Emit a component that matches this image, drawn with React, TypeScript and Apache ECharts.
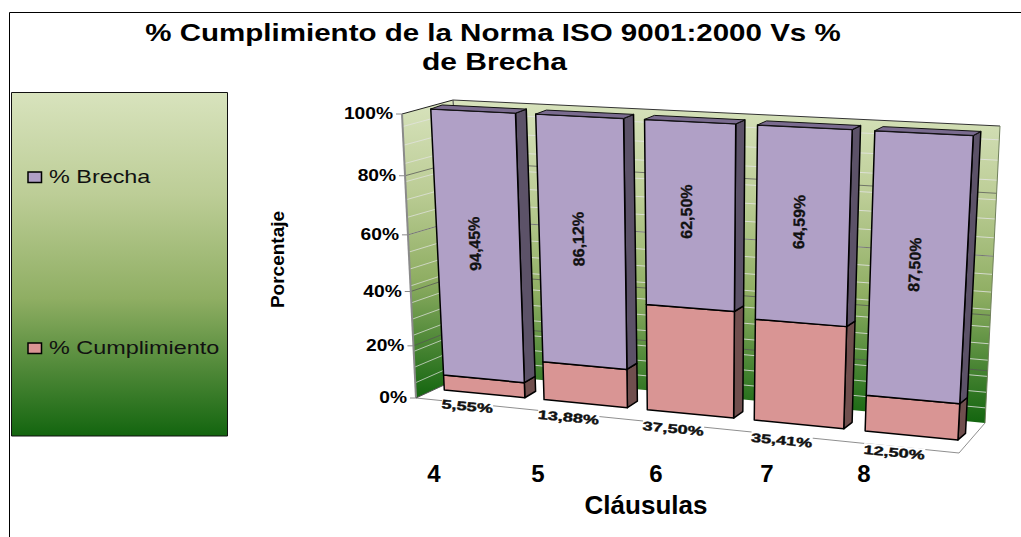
import React, { useEffect, useRef } from "react";
import * as echarts from "echarts";

const categories = ["4", "5", "6", "7", "8"];
const brecha = [94.45, 86.12, 62.5, 64.59, 87.5];
const cumplimiento = [5.55, 13.88, 37.5, 35.41, 12.5];
const yTicks = [0, 20, 40, 60, 80, 100];
const wallStripes = [5.9, 11.9, 17.9, 23.9, 29.9, 35.9, 42, 48, 54, 60, 66, 72, 78, 84, 90, 96];
const legendNames = ["% Brecha", "% Cumplimiento"];

const titleLine1 = "% Cumplimiento de la Norma ISO 9001:2000 Vs %";
const titleLine2 = "de Brecha";
const yName = "Porcentaje";
const xName = "Cláusulas";

// layout constants (not data)
const categoryLabelX = [434, 538, 656, 767, 864];
const FONT = '"Liberation Sans", Arial, sans-serif';
const GRID = { left: 400, top: 100, width: 500, height: 300 };

type P = [number, number];
function quadMap(p0: P, p1: P, p2: P, p3: P) {
  const [x0, y0] = p0, [x1, y1] = p1, [x2, y2] = p2, [x3, y3] = p3;
  const dx1 = x1 - x2, dx2 = x3 - x2, sx = x0 - x1 + x2 - x3;
  const dy1 = y1 - y2, dy2 = y3 - y2, sy = y0 - y1 + y2 - y3;
  const den = dx1 * dy2 - dx2 * dy1;
  const g = (sx * dy2 - dx2 * sy) / den;
  const h = (dx1 * sy - sx * dy1) / den;
  const a = x1 - x0 + g * x1, b = x3 - x0 + h * x3;
  const d = y1 - y0 + g * y1, e = y3 - y0 + h * y3;
  return (u: number, v: number): P => {
    const w = g * u + h * v + 1;
    return [(a * u + b * v + x0) / w, (d * u + e * v + y0) / w];
  };
}

const barPlane = quadMap([435, 389], [969, 441], [985, 136], [421, 108.5]);
const backWall = quadMap([470, 373], [985, 423], [1000, 126], [453, 100]);
const sideWall = quadMap([416, 398], [470, 373], [453, 100], [402, 114]);
const squeeze = (t: number, k: number) => t / (1 + k * (1 - t));
const wallFill = () =>
  new echarts.graphic.LinearGradient(0, 0, 0, 1, [
    { offset: 0, color: "#d8e3bd" },
    { offset: 0.3, color: "#bccd96" },
    { offset: 0.6, color: "#8fae63" },
    { offset: 1, color: "#13650f" },
  ]);

const poly = (points: P[], fill: any, stroke: string | null, lw = 1.5) => ({
  type: "polygon",
  shape: { points },
  style: { fill, stroke: stroke ?? "none", lineWidth: lw, lineJoin: "round" },
  silent: true,
});
const seg = (a: P, b: P, stroke: string, lw = 1) => ({
  type: "line",
  shape: { x1: a[0], y1: a[1], x2: b[0], y2: b[1] },
  style: { stroke, lineWidth: lw, fill: "none" },
  silent: true,
});

function renderWalls(params: any, api: any) {
  const cs = params.coordSys;
  const tOf = (v: number) => (cs.y + cs.height - api.coord([0, v])[1]) / cs.height;
  const kids: any[] = [];
  const back = (s: number, t: number) => backWall(s, squeeze(t, 0.1));
  const sideFront = (t: number) => sideWall(0, squeeze(t, 0.19));
  kids.push(poly([backWall(0, 0), backWall(1, 0), backWall(1, 1), backWall(0, 1)], wallFill(), null));
  kids.push(poly([sideWall(0, 0), sideWall(1, 0), sideWall(1, 1), sideWall(0, 1)], wallFill(), null));
  wallStripes.forEach((v) => {
    const t = tOf(v);
    kids.push(seg(back(0, t), back(1, t), "rgba(228,228,228,0.8)", 1));
    kids.push(seg(sideFront(t), back(0, t), "rgba(228,228,228,0.7)", 1));
  });
  yTicks.slice(1, -1).forEach((v) => {
    const t = tOf(v);
    kids.push(seg(back(0, t), back(1, t), "rgba(85,85,85,0.75)", 1));
    kids.push(seg(sideFront(t), back(0, t), "rgba(85,85,85,0.75)", 1));
  });
  // edges
  kids.push(seg(sideWall(0, 1), sideWall(1, 1), "#222", 1));
  kids.push(seg(backWall(0, 1), backWall(1, 1), "#333", 1));
  kids.push(seg(backWall(1, 1), backWall(1, 0), "#6f7f5a", 1));
  kids.push(seg(sideWall(0, 0), sideWall(0, 1), "#8a8a8a", 2));
  kids.push(seg(sideWall(1, 0), sideWall(1, 1), "#444", 1));
  // floor
  const fl: P = [959, 453];
  kids.push(seg(sideWall(0, 0), fl, "#8f8f8f", 1));
  kids.push(seg(fl, backWall(1, 0), "#8f8f8f", 1));
  kids.push(seg(sideWall(0, 0), sideWall(1, 0), "#555", 1));
  // y ticks and labels
  yTicks.forEach((v) => {
    const p = sideFront(tOf(v));
    kids.push(seg([p[0] - 6, p[1]], p, "#8a8a8a", 1));
    kids.push({
      type: "text",
      x: p[0] - 9,
      y: p[1],
      scaleX: 1.2,
      silent: true,
      style: {
        text: v + "%",
        fill: "#000",
        font: `bold 16px ${FONT}`,
        textAlign: "right",
        textVerticalAlign: "middle",
      },
    });
  });
  return { type: "group", children: kids };
}

const fmt = (v: number) => v.toFixed(2).replace(".", ",") + "%";

function makeBarRenderer(front: string, side: string, top: string | null, vertical: boolean) {
  return (params: any, api: any) => {
    const cs = params.coordSys;
    const i = api.value(0);
    const lo = api.value(1);
    const hi = api.value(2);
    const band = api.size([1, 0])[0];
    const half = band * 0.405;
    const cx = api.coord([i, lo])[0];
    const st = (px: number, v: number): P => {
      const py = api.coord([i, v])[1];
      return barPlane((px - cs.x) / cs.width, (cs.y + cs.height - py) / cs.height);
    };
    const depth = (p: P, px: number, v: number): P => {
      const s = (px - cs.x) / cs.width;
      const t = (cs.y + cs.height - api.coord([i, v])[1]) / cs.height;
      return [p[0] + 11.5 - 4 * s, p[1] - 6.5 + 2.5 * t];
    };
    const xl = cx - half, xr = cx + half;
    const bl = st(xl, lo), br = st(xr, lo), tr = st(xr, hi), tl = st(xl, hi);
    const brB = depth(br, xr, lo), trB = depth(tr, xr, hi), tlB = depth(tl, xl, hi);
    const kids: any[] = [
      poly([br, brB, trB, tr], side, "#000", 1.5),
      poly([bl, br, tr, tl], front, "#000", 1.5),
    ];
    if (top) kids.push(poly([tl, tr, trB, tlB], top, "#111", 1));
    const mid = (lo + hi) / 2 + 1.6;
    if (vertical) {
      const c = st(cx, mid);
      const c2 = st(cx, mid + 10);
      const tilt = Math.atan2(c2[0] - c[0], c[1] - c2[1]);
      kids.push({
        type: "text",
        x: c[0] - 3.5,
        y: c[1],
        rotation: Math.PI / 2 - tilt,
        silent: true,
        style: {
          text: fmt(hi - lo),
          fill: "#111",
          stroke: "#111",
          lineWidth: 0.3,
          font: `bold 16px ${FONT}`,
          textAlign: "center",
          textVerticalAlign: "middle",
        },
      });
    }
    return { type: "group", children: kids };
  };
}

function renderFloorLabel(params: any, api: any) {
  const cs = params.coordSys;
  const i = api.value(0);
  const py = api.coord([i, 0]);
  const b = barPlane((py[0] - cs.x) / cs.width, 0);
  const n = params.dataIndex;
  return {
    type: "text",
    x: b[0] - 17,
    y: b[1] + 12.5 + n * 1.1,
    rotation: -0.095,
    scaleX: 1.45,
    silent: true,
    style: {
      text: fmt(api.value(1)),
      fill: "#111",
      stroke: "#111",
      lineWidth: 0.4,
      font: `bold 12.5px ${FONT}`,
      textAlign: "center",
      textVerticalAlign: "middle",
      backgroundColor: "#fff",
    },
  };
}

const legendGradient = () =>
  new echarts.graphic.LinearGradient(0, 0, 0, 1, [
    { offset: 0, color: "#d8e3bd" },
    { offset: 0.3, color: "#bccd96" },
    { offset: 0.6, color: "#8fae63" },
    { offset: 1, color: "#13650f" },
  ]);

export default function App() {
  const ref = useRef<HTMLDivElement>(null);
  useEffect(() => {
    const chart = echarts.init(ref.current!, undefined, { renderer: "svg" });
    const legendRows = [
      { y: 177.5, color: "#b0a0c6" },
      { y: 348.5, color: "#d99594" },
    ];
    chart.setOption({
      animation: false,
      backgroundColor: "#fff",
      grid: GRID,
      xAxis: { type: "category", data: categories, show: false },
      yAxis: { type: "value", min: 0, max: 100, interval: 20, show: false },
      graphic: [
        { type: "rect", shape: { x: 9.5, y: 12.5, width: 1100, height: 600 }, style: { fill: "none", stroke: "#000", lineWidth: 1 } },
        { type: "text", x: 493, y: 33, scaleX: 1.23, style: { text: titleLine1, fill: "#000", font: `bold 24px ${FONT}`, textAlign: "center", textVerticalAlign: "middle" } },
        { type: "text", x: 494.5, y: 62, scaleX: 1.25, style: { text: titleLine2, fill: "#000", font: `bold 24px ${FONT}`, textAlign: "center", textVerticalAlign: "middle" } },
        { type: "rect", shape: { x: 11.5, y: 92.5, width: 216, height: 343.5 }, style: { fill: legendGradient(), stroke: "#111", lineWidth: 1 } },
        ...legendNames.flatMap((name, i) => [
          { type: "rect", shape: { x: 28, y: legendRows[i].y - 5.5, width: 13.5, height: 10.5 }, style: { fill: legendRows[i].color, stroke: "#000", lineWidth: 1.5 } },
          {
            type: "text",
            x: 49,
            y: legendRows[i].y - 0.5,
            scaleX: 1.3,
            style: { text: name, fill: "#111", font: `18px ${FONT}`, textAlign: "left", textVerticalAlign: "middle" },
          },
        ]),
        ...categories.map((c, i) => ({
          type: "text",
          x: categoryLabelX[i],
          y: 473,
          style: { text: c, fill: "#000", font: `bold 24px ${FONT}`, textAlign: "center", textVerticalAlign: "middle" },
        })),
        {
          type: "text",
          x: 646,
          y: 505,
          style: { text: xName, fill: "#000", font: `bold 26px ${FONT}`, textAlign: "center", textVerticalAlign: "middle" },
        },
        {
          type: "text",
          x: 277,
          y: 259.5,
          rotation: Math.PI / 2,
          style: { text: yName, fill: "#000", font: `bold 19px ${FONT}`, textAlign: "center", textVerticalAlign: "middle" },
        },
      ],
      series: [
        { type: "custom", name: "walls", silent: true, clip: false, renderItem: renderWalls, data: [[0]], encode: { x: 0 } },
        {
          type: "custom",
          name: "floor labels",
          silent: true,
          clip: false,
          renderItem: renderFloorLabel,
          data: cumplimiento.map((v, i) => [i, v]),
          encode: { x: 0, y: 1 },
        },
        {
          type: "custom",
          name: legendNames[1],
          silent: true,
          clip: false,
          renderItem: makeBarRenderer("#d99594", "#704f4e", null, false),
          data: cumplimiento.map((v, i) => [i, 0, v]),
          encode: { x: 0, y: [1, 2] },
        },
        {
          type: "custom",
          name: legendNames[0],
          silent: true,
          clip: false,
          renderItem: makeBarRenderer("#b0a0c6", "#5c5268", "#7a6b8f", true),
          data: brecha.map((v, i) => [i, cumplimiento[i], cumplimiento[i] + v]),
          encode: { x: 0, y: [1, 2] },
        },
      ],
    });
    return () => chart.dispose();
  }, []);
  return <div ref={ref} style={{ position: "absolute", left: 0, top: 0, width: 1021, height: 537, overflow: "hidden" }} />;
}
